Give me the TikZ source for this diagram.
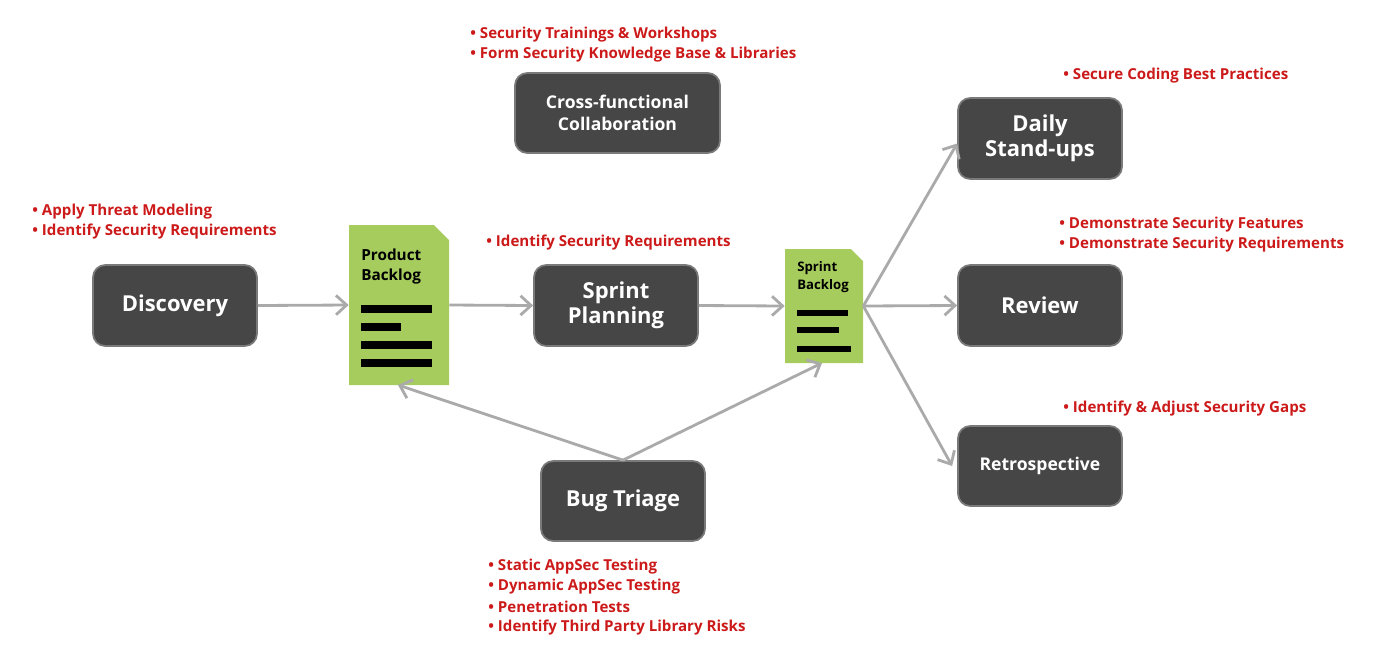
\documentclass[tikz,border=0pt]{standalone}
\usepackage{fontspec}
\setmainfont{Open Sans}
\usetikzlibrary{arrows.meta}
\definecolor{boxc}{HTML}{464646}
\definecolor{boxb}{HTML}{7A7A7A}
\definecolor{grn}{HTML}{A6CC5E}
\definecolor{redc}{HTML}{CC1A1A}
\definecolor{arr}{HTML}{AAAAAA}
\tikzset{
 blk/.style={draw=boxb,line width=1pt,fill=boxc,rounded corners=7pt,text=white,font=\bfseries\fontsize{12.5}{14}\selectfont,align=center,minimum width=164*0.02cm,minimum height=81*0.02cm,inner sep=0pt},
 blks/.style={blk,font=\bfseries\fontsize{10}{12.5}\selectfont},
 lbl/.style={anchor=west,text=redc,font=\bfseries\fontsize{8.6}{10}\selectfont,inner sep=0pt},
 con/.style={draw=arr,line width=1.6pt,-{Straight Barb[length=6pt,width=11pt,line width=1.6pt]}},
 bar/.style={line width=4pt,black},
}
\begin{document}
\begin{tikzpicture}[x=0.02cm,y=-0.02cm]
\useasboundingbox (0,0) rectangle (1400,664);
% boxes
\node[blk] (disc) at (175,305.5) {Discovery};
\node[blks,minimum width=205*0.02cm,minimum height=80*0.02cm] (cross) at (617.5,113) {Cross-functional\\Collaboration};
\node[blk] (sp) at (616,305.5) {Sprint\\Planning};
\node[blk,minimum height=80*0.02cm] (bug) at (623,501) {Bug Triage};
\node[blk] (daily) at (1040,138.5) {Daily\\Stand-ups};
\node[blk] (rev) at (1040,305.5) {Review};
\node[blks,minimum height=80*0.02cm] (retro) at (1040,466) {Retrospective};
% documents
\fill[grn] (349,225) -- (434,225) -- (449,240) -- (449,385) -- (349,385) -- cycle;
\node[inner sep=0pt,minimum width=100*0.02cm,minimum height=160*0.02cm] (pb) at (399,305) {};
\node[anchor=north west,inner sep=0pt,align=left,font=\bfseries\fontsize{8.7}{11.3}\selectfont] (pbt) at (361,249) {Product\\Backlog};
\draw[bar] (361,309) -- (432,309); \draw[bar] (361,327) -- (401,327);
\draw[bar] (361,345) -- (432,345); \draw[bar] (361,363) -- (432,363);
\fill[grn] (785,249) -- (851,249) -- (863,261) -- (863,363) -- (785,363) -- cycle;
\node[inner sep=0pt,minimum width=78*0.02cm,minimum height=114*0.02cm] (sb) at (824,306) {};
\node[anchor=north west,inner sep=0pt,align=left,font=\bfseries\fontsize{7.5}{10.2}\selectfont] (sbt) at (797,261) {Sprint\\Backlog};
\draw[line width=3pt] (797,313) -- (848,313); \draw[line width=3pt] (797,330) -- (839,330);
\draw[line width=3pt] (797,349) -- (851,349);
% connectors
\draw[con] (disc.east) -- (pb.west);
\draw[con] (pb.east) -- (sp.west);
\draw[con] (sp.east) -- (sb.west);
\draw[con] (sb.east) -- ([yshift=-0.1cm]daily.west);
\draw[con] (sb.east) -- (rev.west);
\draw[con] (sb.east) -- ([xshift=-0.1cm]retro.west);
\draw[con] (bug.north) -- (398,385);
\draw[con] (bug.north) -- (822,363);
% labels
\node[lbl] (l1) at (32,212) {• Apply Threat Modeling};
\node[lbl] (l2) at (32,232) {• Identify Security Requirements};
\node[lbl] (l3) at (470,35) {• Security Trainings \& Workshops};
\node[lbl] (l4) at (470,55) {• Form Security Knowledge Base \& Libraries};
\node[lbl] (l5) at (486,243) {• Identify Security Requirements};
\node[lbl] (l6) at (1063,76) {• Secure Coding Best Practices};
\node[lbl] (l7) at (1059,225) {• Demonstrate Security Features};
\node[lbl] (l8) at (1059,245) {• Demonstrate Security Requirements};
\node[lbl] (l9) at (1063,409) {• Identify \& Adjust Security Gaps};
\node[lbl] (l10) at (488,567) {• Static AppSec Testing};
\node[lbl] (l11) at (488,587) {• Dynamic AppSec Testing};
\node[lbl] (l12) at (488,607) {• Penetration Tests};
\node[lbl] (l13) at (488,628) {• Identify Third Party Library Risks};
\end{tikzpicture}
\end{document}
